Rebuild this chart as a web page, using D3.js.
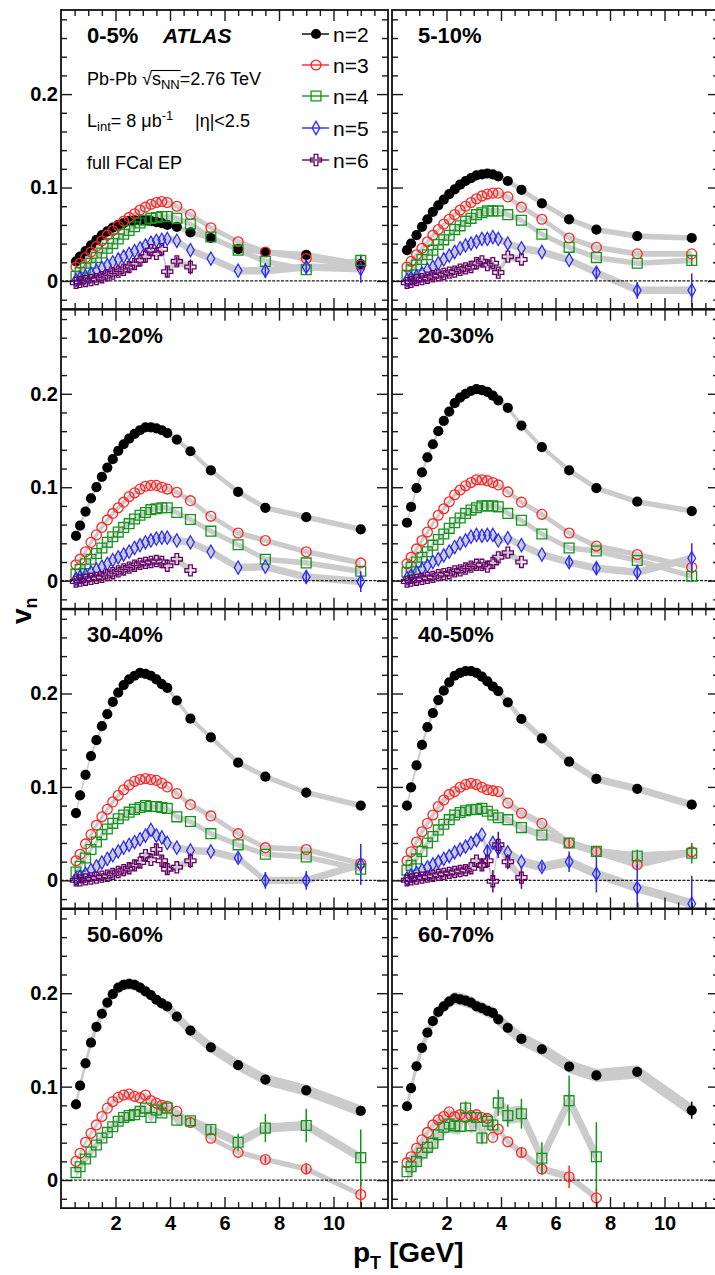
<!DOCTYPE html>
<html>
<head>
<meta charset="utf-8">
<script src="https://cdn.jsdelivr.net/npm/d3@7"></script>
<style>
body { margin: 0; background: #fff; }
text { font-family: "Liberation Sans", Arial, Helvetica, sans-serif; }
</style>
</head>
<body>
<script>
let width = 715
let height = 1275

// pT bin centres (GeV)
const pT = [0.55, 0.7, 0.9, 1.1, 1.3, 1.5, 1.7, 1.9, 2.1, 2.3, 2.5, 2.7, 2.9, 3.1, 3.3, 3.5, 3.7, 3.9, 4.25, 4.75, 5.5, 6.5, 7.5, 9, 11]

const centralities = ["0-5%", "5-10%", "10-20%", "20-30%", "30-40%", "40-50%", "50-60%", "60-70%"]

// v2 .. v6 for each centrality (one array per panel)
const v2 = [
  [.021,.026,.032,.038,.044,.049,.053,.057,.060,.062,.064,.065,.065,.065,.064,.063,.062,.060,.058,.052,.046,.034,.031,.028,.018],
  [.033,.040,.049,.058,.066,.074,.081,.087,.093,.098,.103,.107,.110,.113,.114,.115,.114,.112,.107,.0975,.083,.066,.055,.048,.046],
  [.048,.059,.074,.088,.100,.111,.121,.130,.139,.146,.152,.157,.161,.164,.164,.163,.161,.158,.151,.1385,.118,.095,.078,.068,.055],
  [.062,.079,.099,.116,.132,.146,.160,.171,.181,.190,.196,.200,.203,.205,.204,.202,.198,.193,.185,.166,.143,.118,.099,.0845,.0745],
  [.072,.091,.113,.133,.150,.165,.178,.191,.201,.209,.215,.219,.222,.221,.219,.215,.210,.206,.1925,.173,.153,.126,.111,.094,.080],
  [.080,.0996,.123,.145,.164,.179,.193,.203,.212,.219,.222,.224,.224,.222,.218,.213,.2075,.2025,.1906,.1727,.152,.127,.1086,.098,.081],
  [.081,.101,.125,.147,.164,.178,.190,.199,.206,.209,.210,.209,.206,.202,.198,.193,.189,.186,.175,.160,.142,.123,.1075,.096,.074],
  [.079,.0985,.1218,.1415,.1577,.170,.180,.186,.191,.1946,.1935,.192,.190,.186,.184,.181,.179,.172,.163,.151,.140,.1215,.112,.1158,.0747]
]
const v3 = [
  [.015,.019,.025,.031,.037,.043,.049,.054,.059,.064,.068,.072,.076,.079,.082,.084,.085,.084,.080,.071,.057,.042,.031,.024,.017],
  [.015,.021,.028,.035,.042,.049,.055,.061,.066,.071,.076,.080,.084,.088,.091,.093,.094,.094,.090,.079,.066,.046,.036,.029,.029],
  [.017,.023,.031,.041,.049,.057,.065,.072,.078,.084,.090,.094,.098,.101,.102,.102,.100,.098,.0946,.0856,.069,.051,.043,.031,.019],
  [.018,.025,.034,.043,.052,.061,.070,.077,.0845,.092,.097,.1015,.105,.108,.108,.107,.105,.1025,.095,.084,.071,.051,.037,.028,.0144],
  [.021,.028,.039,.049,.059,.068,.076,.084,.091,.097,.102,.106,.108,.109,.108,.107,.104,.100,.093,.081,.069,.050,.035,.033,.018],
  [.021,.0306,.041,.052,.061,.070,.079,.086,.092,.095,.0996,.1025,.104,.1025,.0996,.097,.096,.095,.0827,.072,.061,.040,.031,.017,.0306],
  [.020,.0287,.0405,.050,.059,.068,.077,.084,.0885,.091,.092,.0896,.088,.091,.085,.0824,.080,.079,.0735,.0616,.0448,.0297,.022,.012,-.0154],
  [.0186,.025,.034,.043,.051,.059,.0645,.068,.073,.068,.070,.067,.069,.070,.067,.066,.0457,.0545,.041,.0295,.0118,.0036,-.019]
]
const v4 = [
  [.005,.009,.014,.019,.025,.030,.035,.040,.045,.050,.054,.058,.062,.065,.067,.068,.069,.069,.067,.061,.047,.033,.021,.012,.022],
  [.006,.012,.017,.023,.028,.033,.039,.044,.049,.055,.059,.064,.067,.071,.073,.075,.075,.075,.071,.065,.050,.036,.025,.019,.022],
  [.007,.012,.018,.023,.029,.035,.041,.047,.052,.057,.061,.066,.070,.073,.076,.077,.078,.078,.073,.0655,.053,.0385,.023,.019,.010],
  [.009,.0144,.020,.025,.031,.038,.044,.050,.056,.062,.067,.072,.0755,.078,.080,.080,.080,.079,.072,.0647,.050,.035,.0317,.0216,.0047],
  [.009,.015,.024,.033,.041,.049,.055,.061,.066,.070,.073,.076,.078,.080,.079,.079,.078,.077,.068,.063,.050,.038,.028,.025,.012],
  [.011,.016,.023,.031,.040,.047,.054,.060,.065,.070,.0727,.0745,.0755,.076,.077,.074,.070,.067,.065,.0565,.0486,.040,.031,.026,.029],
  [.008,.0143,.0226,.030,.0376,.045,.051,.057,.063,.067,.069,.070,.0735,.077,.067,.075,.0717,.077,.064,.0634,.054,.0405,.0556,.0584,.024],
  [.009,.0143,.020,.029,.035,.0395,.0485,.0565,.060,.058,.0575,.077,.058,.067,.045,.063,.059,.0826,.069,.071,.0234,.085,.025]
]
const v5 = [
  [.001,.003,.005,.008,.011,.014,.017,.020,.023,.026,.029,.032,.035,.038,.041,.043,.044,.045,.043,.033,.024,.011,.011,.015,.013],
  [.001,.003,.005,.008,.012,.015,.019,.023,.027,.031,.035,.038,.040,.042,.045,.045,.047,.045,.040,.035,.031,.0225,.009,-.010,-.010],
  [.002,.004,.006,.009,.012,.015,.018,.022,.025,.028,.031,.035,.038,.041,.043,.045,.046,.046,.043,.041,.031,.014,.015,.004,-.001],
  [.0025,.005,.009,.0126,.016,.020,.023,.027,.031,.036,.040,.043,.047,.049,.048,.049,.049,.043,.0455,.038,.028,.0198,.0133,.009,.024],
  [.002,.004,.007,.011,.015,.019,.023,.027,.031,.035,.038,.041,.044,.048,.054,.048,.046,.040,.035,.032,.031,.024,.000,.000,.017],
  [.002,.005,.008,.011,.014,.017,.020,.023,.026,.030,.033,.036,.040,.043,.049,.031,.040,.034,.030,.020,.0144,.020,.007,-.008,-.025],
  null,
  null
]
const v6 = [
  [-.002,-.001,.000,.001,.002,.004,.006,.008,.010,.012,.015,.018,.022,.026,.033,.029,.034,.010,.021,.015],
  [-.002,-.001,.001,.002,.0035,.005,.006,.0075,.009,.010,.012,.0135,.015,.019,.021,.017,.019,.009,.026,.023],
  [-.001,.000,.001,.002,.003,.004,.006,.008,.010,.012,.014,.016,.018,.019,.020,.021,.020,.016,.023,.011],
  [-.001,.000,.001,.002,.003,.004,.006,.007,.008,.010,.011,.013,.015,.017,.017,.015,.019,.025,.030,.020],
  [.000,.000,.001,.002,.003,.004,.005,.007,.009,.011,.013,.016,.019,.027,.022,.033,.021,.012,.014,.021],
  [.000,.001,.002,.003,.004,.005,.006,.007,.008,.009,.010,.011,.013,.021,.016,.021,-.001,.038,.020,.003],
  null,
  null
]

// statistical errors (0 = hidden by the marker)
const e2 = [
  [0,0,0,0,0,0,0,0,0,0,0,0,0,0,0,0,0,0,0,0,0,0,0,0,.004],
  null, null, null, null, null,
  [0,0,0,0,0,0,0,0,0,0,0,0,0,0,0,0,0,0,0,0,0,0,0,0,.003],
  [0,0,0,0,0,0,0,0,0,0,0,0,0,0,0,0,0,0,0,0,0,0,0,0,.009]
]
const e3 = [
  null, null, null,
  [0,0,0,0,0,0,0,0,0,0,0,0,0,0,0,0,0,0,0,0,0,0,0,0,.004],
  [0,0,0,0,0,0,0,0,0,0,0,0,0,0,0,0,0,0,0,0,0,0,0,0,.005],
  [0,0,0,0,0,0,0,0,0,0,0,0,0,0,0,0,0,0,0,0,0,.005,.005,.007,.008],
  [0,0,0,0,0,0,0,0,0,0,0,0,0,0,0,0,0,0,0,0,0,0,.004,.006,.014],
  [0,0,0,0,0,0,0,0,0,0,0,0,0,0,0,0,0,0,0,.005,.006,.012,.010]
]
const e4 = [
  [0,0,0,0,0,0,0,0,0,0,0,0,0,0,0,0,0,0,0,0,0,0,0,0,.006],
  [0,0,0,0,0,0,0,0,0,0,0,0,0,0,0,0,0,0,0,0,0,0,0,0,.005],
  null,
  [0,0,0,0,0,0,0,0,0,0,0,0,0,0,0,0,0,0,0,0,0,0,0,0,.006],
  [0,0,0,0,0,0,0,0,0,0,0,0,0,0,0,0,0,0,0,0,0,0,0,0,.005],
  [0,0,0,0,0,0,0,0,0,0,0,0,0,0,0,0,0,0,0,0,0,0,0,.007,.011],
  [0,0,0,0,0,0,0,0,0,0,0,0,0,0,0,0,0,0,0,.004,.004,.009,.015,.018,.030],
  [0,0,0,0,0,0,0,0,0,0,0,.007,0,0,.006,0,.006,.014,.012,.016,.017,.027,.037]
]
const e5 = [
  [0,0,0,0,0,0,0,0,0,0,0,0,0,0,0,0,0,0,0,0,0,0,.008,.008,.015],
  [0,0,0,0,0,0,0,0,0,0,0,0,0,0,0,0,0,0,0,0,0,0,.006,.009,.018],
  [0,0,0,0,0,0,0,0,0,0,0,0,0,0,0,0,0,0,0,0,0,0,0,.007,.011],
  [0,0,0,0,0,0,0,0,0,0,0,0,0,0,0,0,0,0,0,0,0,.005,.007,.008,.016],
  [0,0,0,0,0,0,0,0,0,0,0,0,0,0,0,0,0,0,0,0,0,.005,.009,.010,.022],
  [0,0,0,0,0,0,0,0,0,0,0,0,0,0,0,.006,0,0,0,0,.004,.011,.020,.025,.030],
  null,
  null
]
const e6 = [
  [0,0,0,0,0,0,0,0,0,0,0,0,0,0,0,0,0,.006,.005,.008],
  [0,0,0,0,0,0,0,0,0,0,0,0,0,0,0,0,0,.004,0,0],
  null,
  null,
  [0,0,0,0,0,0,0,0,0,0,0,0,0,0,0,.006,.006,.006,0,.008],
  [0,0,0,0,0,0,0,0,0,0,0,0,0,0,.006,.006,.012,.014,.008,.012],
  null,
  null
]

// systematic band half-widths, one per panel
const sys2 = [.003, .003, .003, .003, .003, .004, .006, .007]
const sys3 = [.003, .003, .003, .003, .003, .004, .003, .004]
const sys4 = [.003, .003, .003, .003, .003, .004, .005, .009]
const sys5 = [.004, .004, .004, .004, .004, .005, 0, 0]
const sys6 = [.004, .004, .004, .004, .004, .005, 0, 0]

const harmonics = ["n=2", "n=3", "n=4", "n=5", "n=6"]
const colors = ["#000000", "#ff2424", "#12961a", "#2a2aff", "#660066"]
const xTicks = [2, 4, 6, 8, 10]
const yTicks = [0, 0.1, 0.2]

const values = [v2, v3, v4, v5, v6]
const errors = [e2, e3, e4, e5, e6]
const syst = [sys2, sys3, sys4, sys5, sys6]

// panel geometry
const pw = 327, ph = 299
const colX = [61, 392]
const top0 = 10, rowStep = 299.7

let x = d3.scaleLinear().domain([0, 12]).range([0, pw])
let y = d3.scaleLinear().domain([-0.03, 0.29]).range([ph, 0])

const shapes = [
  d3.symbol().type(d3.symbolCircle).size(82),
  d3.symbol().type(d3.symbolCircle).size(76),
  d3.symbol().type(d3.symbolSquare).size(96),
  d3.symbol().type(d3.symbolDiamond).size(50),
  d3.symbol().type(d3.symbolCross).size(68)
]

let svg = d3.select("body")
  .append("svg")
  .attr("width", width)
  .attr("height", height)

let xMinor = d3.range(1, 24).map(d => d / 2).filter(d => d % 2 != 0)
let yMinor = d3.range(-1, 15).map(d => d / 50).filter(d => Math.abs(d * 10 - Math.round(d * 10)) > 1e-6)

function drawMarker(sel, k) {
  sel.attr("d", shapes[k]())
    .attr("fill", k == 0 ? colors[0] : "none")
    .attr("stroke", colors[k])
    .attr("stroke-width", k == 0 ? 0 : 1.3)
}

centralities.forEach(function(label, i) {
  let col = i % 2, row = Math.floor(i / 2)
  let g = svg.append("g")
    .attr("transform", `translate(${colX[col]},${top0 + row * rowStep})`)

  g.append("clipPath").attr("id", "clip" + i)
    .append("rect").attr("width", pw).attr("height", ph)

  let plot = g.append("g").attr("clip-path", `url(#clip${i})`)

  // series data for this panel
  let series = []
  values.forEach(function(vals, k) {
    if (!vals[i]) return
    let errs = errors[k][i]
    series.push({
      k: k,
      sys: syst[k][i],
      pts: vals[i].map((v, j) => ({ pt: pT[j], v: v, e: errs ? errs[j] : 0 }))
    })
  })

  // grey systematic bands
  let band = d3.area()
    .x(d => x(d.pt))
    .y0(d => y(d.v - d.s))
    .y1(d => y(d.v + d.s))
  series.forEach(function(s) {
    plot.append("path")
      .datum(s.pts.map(d => ({ pt: d.pt, v: d.v, s: s.sys })))
      .attr("fill", "#cbcbcb")
      .attr("d", band)
  })

  // dashed zero line
  plot.append("line")
    .attr("x1", 0).attr("x2", pw)
    .attr("y1", y(0)).attr("y2", y(0))
    .attr("stroke", "#1a1a1a")
    .attr("stroke-width", 1.2)
    .attr("stroke-dasharray", "3,1.4")

  // error bars then markers
  series.forEach(function(s) {
    plot.selectAll(null)
      .data(s.pts.filter(d => d.e > 0))
      .enter()
      .append("line")
      .attr("x1", d => x(d.pt)).attr("x2", d => x(d.pt))
      .attr("y1", d => y(d.v - d.e)).attr("y2", d => y(d.v + d.e))
      .attr("stroke", colors[s.k])
      .attr("stroke-width", 1.5)
  })
  series.forEach(function(s) {
    plot.selectAll(null)
      .data(s.pts)
      .enter()
      .append("path")
      .attr("transform", d => `translate(${x(d.pt)},${y(d.v)})`)
      .call(drawMarker, s.k)
  })

  // ticks on all four sides, pointing inwards
  let tickAxes = [
    [d3.axisBottom(x), `translate(0,${ph})`, xMinor, xTicks],
    [d3.axisTop(x), "translate(0,0)", xMinor, xTicks],
    [d3.axisLeft(y), "translate(0,0)", yMinor, yTicks],
    [d3.axisRight(y), `translate(${pw},0)`, yMinor, yTicks]
  ]
  tickAxes.forEach(function(a) {
    let ax = g.append("g").attr("transform", a[1])
    ax.call(a[0].tickValues(a[2]).tickSize(-6).tickFormat(""))
    let ax2 = g.append("g").attr("transform", a[1])
    ax2.call(a[0].tickValues(a[3]).tickSize(-11).tickFormat(""))
    g.selectAll(".domain").remove()
  })
  g.selectAll(".tick line").attr("stroke", "#1a1a1a").attr("stroke-width", 1.4)

  // frame
  g.append("rect")
    .attr("width", pw).attr("height", ph)
    .attr("fill", "none")
    .attr("stroke", "#111")
    .attr("stroke-width", 1.8)

  // y labels on the left column
  if (col == 0) {
    let yl = g.append("g")
      .call(d3.axisLeft(y).tickValues(yTicks).tickSize(0).tickPadding(3)
        .tickFormat(d => d == 0 ? "0" : d3.format(".1f")(d)))
    yl.select(".domain").remove()
    yl.selectAll("text")
      .attr("font-size", 20).attr("font-weight", "bold").attr("fill", "#000")
      .style("font-family", "'Liberation Sans', Arial, sans-serif")
  }
  // x labels on the bottom row
  if (row == 3) {
    let xl = g.append("g").attr("transform", `translate(0,${ph})`)
      .call(d3.axisBottom(x).tickValues(xTicks).tickSize(0).tickPadding(8))
    xl.select(".domain").remove()
    xl.selectAll("text")
      .attr("font-size", 20).attr("font-weight", "bold").attr("fill", "#000")
      .style("font-family", "'Liberation Sans', Arial, sans-serif")
  }

  g.append("text")
    .attr("x", 26).attr("y", 33)
    .attr("font-size", 22).attr("font-weight", "bold")
    .text(label)
})

// ATLAS label and run info in the first panel
svg.append("text")
  .attr("x", 163).attr("y", 43)
  .attr("font-size", 21).attr("font-weight", "bold").attr("font-style", "italic")
  .text("ATLAS")

let info = svg.append("text")
  .attr("x", 87).attr("y", 85)
  .attr("font-size", 18)
info.append("tspan").text("Pb-Pb ")
info.append("tspan").text("\u221A")
info.append("tspan").text("s")
info.append("tspan").attr("font-size", 13).attr("dy", 4).text("NN")
info.append("tspan").attr("dy", -4).text("=2.76 TeV")
// overline of the square root
let sIdx = "Pb-Pb \u221A".length
let nnEnd = sIdx + 2
let infoNode = info.node()
let sx0 = infoNode.getStartPositionOfChar(sIdx).x
let sx1 = infoNode.getEndPositionOfChar(nnEnd).x
svg.append("line")
  .attr("x1", sx0 - 1).attr("x2", sx1 + 1)
  .attr("y1", 70.5).attr("y2", 70.5)
  .attr("stroke", "#000").attr("stroke-width", 1.1)

let lum = svg.append("text")
  .attr("x", 87).attr("y", 127)
  .attr("font-size", 18)
lum.append("tspan").text("L")
lum.append("tspan").attr("font-size", 13).attr("dy", 4).text("int")
lum.append("tspan").attr("dy", -4).text("= 8 \u03BCb")
lum.append("tspan").attr("font-size", 13).attr("dy", -7).text("-1")

svg.append("text")
  .attr("x", 195).attr("y", 127)
  .attr("font-size", 18)
  .text("|\u03B7|<2.5")

svg.append("text")
  .attr("x", 87).attr("y", 169)
  .attr("font-size", 18)
  .text("full FCal EP")

// legend
const legendY = [34, 65, 96, 128, 160]
harmonics.forEach(function(h, k) {
  svg.append("line")
    .attr("x1", 302).attr("x2", 329)
    .attr("y1", legendY[k]).attr("y2", legendY[k])
    .attr("stroke", colors[k]).attr("stroke-width", 1.4)
  svg.append("path")
    .attr("transform", `translate(316,${legendY[k]})`)
    .call(drawMarker, k)
  svg.append("text")
    .attr("x", 333).attr("y", legendY[k] + 8)
    .attr("font-size", 21)
    .text(h)
})

// axis titles
let xt = svg.append("text")
  .attr("x", 353).attr("y", 1262)
  .attr("font-size", 28).attr("font-weight", "bold")
xt.append("tspan").text("p")
xt.append("tspan").attr("font-size", 18).attr("dy", 7).text("T")
xt.append("tspan").attr("dy", -7).text(" [GeV]")

let yt = svg.append("text")
  .attr("transform", "translate(31,624) rotate(-90)")
  .attr("font-size", 28).attr("font-weight", "bold")
yt.append("tspan").text("v")
yt.append("tspan").attr("font-size", 18).attr("dy", 6).text("n")
</script>
</body>
</html>
